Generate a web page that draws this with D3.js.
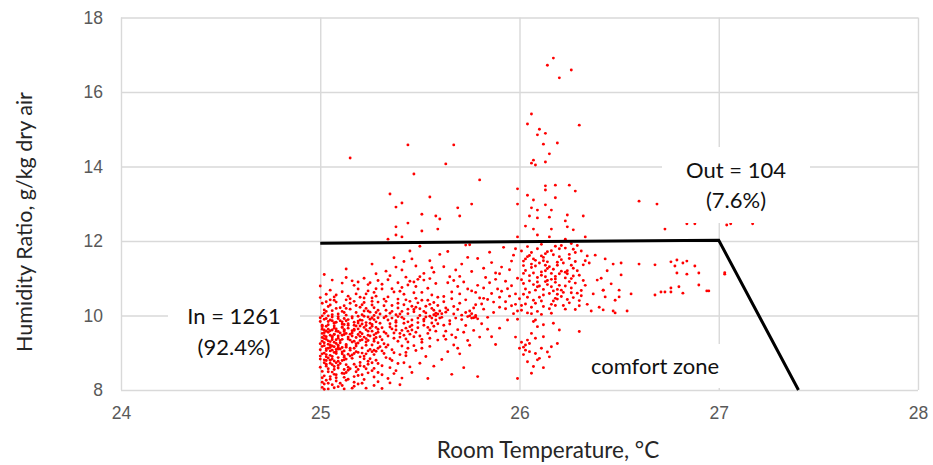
<!DOCTYPE html>
<html>
<head>
<meta charset="utf-8">
<script src="https://cdn.jsdelivr.net/npm/d3@7"></script>
<style>
  html, body { margin: 0; padding: 0; background: #fff; }
  svg { display: block; font-family: Lato, "Open Sans", sans-serif; }
</style>
</head>
<body>
<svg id="chart" width="933" height="465"></svg>
<script>
// Axis ticks
const xTicks = [24, 25, 26, 27, 28];
const yTicks = [8, 10, 12, 14, 16, 18];

// Comfort zone boundary (room temperature °C, humidity ratio g/kg)
const comfortBoundary = [[25, 11.94], [27, 12.02], [27.4, 8]];

// Measured readings: [room temperature °C, humidity ratio g/kg dry air]
const readings25a = [
  [25.01,8.07],[25.03,8.26],[25.06,8.14],[25.02,8.38],[25.08,8.33],[25.04,8.49],[25.00,8.61],[25.07,8.55],[25.05,8.72],[25.09,8.66],
  [25.02,8.81],[25.06,8.9],[25.01,8.97],[25.04,8.86],[25.08,9.03],[25.03,9.11],[25.07,9.16],[25.00,9.24],[25.05,9.3],[25.09,9.2],
  [25.02,9.38],[25.06,9.44],[25.04,9.55],[25.01,9.63],[25.08,9.58],[25.03,9.71],[25.07,9.79],[25.05,9.88],[25.00,9.94],[25.09,9.97],
  [25.02,10.06],[25.06,10.13],[25.04,10.24],[25.08,10.19],[25.01,10.33],[25.07,10.41],[25.03,10.57],[25.00,10.79],[25.05,10.68],[25.02,11.1],
  [25.04,8.18],[25.07,8.42],[25.01,8.5],[25.09,8.77],[25.03,8.95],[25.06,9.07],[25.02,9.19],[25.08,9.35],[25.05,9.47],[25.01,9.52],
  [25.07,9.66],[25.04,9.84],[25.09,9.39],[25.02,9.9],[25.06,10.02],[25.03,8.64],[25.08,8.98],[25.00,9.08],[25.05,9.14],[25.1,9.27],
  [25.03,9.43],[25.06,9.61],[25.01,9.74],[25.08,9.82],[25.04,9.32],[25.07,9.01],[25.02,8.73],[25.09,8.59],[25.05,8.36],[25.0,8.83],
  [25.06,8.68],[25.03,8.89],[25.08,9.25],[25.01,9.41],[25.04,9.63],[25.07,9.49],[25.02,9.27],[25.09,9.1],[25.05,8.93],[25.03,9.58],
  [25.02,8.16],[25.05,8.29],[25.08,8.24],[25.11,8.45],[25.01,8.33],[25.04,8.57],[25.07,8.63],[25.1,8.71],[25.03,8.79],[25.06,8.83],
  [25.09,8.87],[25.12,8.92],[25.02,8.99],[25.05,9.05],[25.08,9.09],[25.11,9.14],[25.01,9.17],[25.04,9.23],[25.07,9.28],[25.1,9.33],
  [25.03,9.36],[25.06,9.4],[25.09,9.45],[25.12,9.49],[25.02,9.54],[25.05,9.59],[25.08,9.64],[25.11,9.68],[25.01,9.7],[25.04,9.75],
  [25.07,9.81],[25.1,9.86],[25.03,9.92],[25.06,9.96],[25.09,10.04],[25.12,10.08],[25.02,10.15],[25.05,10.28],[25.08,10.36],[25.0,10.48],
  [25.04,8.03],[25.09,8.09],[25.01,8.21],[25.06,8.48],[25.12,8.55],[25.03,8.69],[25.08,8.73],[25.0,8.91],[25.11,9.02],[25.05,9.21],
  [25.02,9.46],[25.1,9.53],[25.07,9.72],[25.0,9.84],[25.04,9.99],[25.11,9.77],[25.06,9.35],[25.09,9.15],[25.03,9.06],[25.12,8.81],
  [25.07,8.78],[25.01,9.99],[25.1,10.21],[25.05,10.42],[25.03,10.11],[25.08,10.55],[25.12,9.62],[25.06,9.18],[25.02,9.61],[25.09,9.57]
];
const readings25b = [
  [25.11,8.12],[25.14,8.29],[25.17,8.21],[25.12,8.44],[25.19,8.39],[25.15,8.57],[25.13,8.68],[25.18,8.62],[25.11,8.79],[25.16,8.85],
  [25.2,8.74],[25.14,8.96],[25.12,9.05],[25.17,9.12],[25.19,9.01],[25.13,9.22],[25.16,9.29],[25.11,9.36],[25.18,9.41],[25.15,9.5],
  [25.12,9.57],[25.2,9.55],[25.14,9.66],[25.17,9.74],[25.11,9.83],[25.19,9.8],[25.16,9.93],[25.13,10.01],[25.18,10.08],[25.15,10.17],
  [25.12,10.26],[25.2,10.22],[25.17,10.38],[25.14,10.52],[25.11,10.64],[25.19,10.71],[25.16,10.93],[25.13,11.02],[25.18,8.49],[25.15,8.91],
  [25.13,9.15],[25.19,9.26],[25.11,9.47],[25.17,9.6],[25.14,9.78],[25.2,9.88],[25.12,9.92],[25.16,9.45],[25.18,9.18],[25.13,8.83],
  [25.15,9.07],[25.11,9.69],[25.19,9.64],[25.14,9.37],[25.17,8.98],[25.12,8.34],[25.16,8.05],[25.2,9.33],[25.13,9.86],[25.18,9.72],
  [25.15,10.33],[25.11,10.11],
  [25.13,8.26],[25.17,8.36],[25.22,8.28],[25.26,8.52],[25.14,8.61],[25.19,8.55],[25.24,8.69],[25.28,8.8],[25.12,8.88],[25.16,8.94],
  [25.21,8.99],[25.25,9.09],[25.29,9.12],[25.13,9.19],[25.18,9.24],[25.23,9.2],[25.27,9.31],[25.15,9.34],[25.2,9.44],[25.24,9.47],
  [25.28,9.52],[25.12,9.61],[25.17,9.63],[25.22,9.68],[25.26,9.76],[25.14,9.74],[25.19,9.85],[25.23,9.81],[25.27,9.89],[25.16,9.97],
  [25.21,10.02],[25.25,10.09],[25.29,10.14],[25.13,10.19],[25.18,10.27],[25.22,10.35],[25.26,10.28],[25.15,10.45],[25.2,10.49],[25.24,10.66],
  [25.17,10.81],[25.28,10.52],[25.13,8.47],[25.21,8.41],[25.27,8.95],[25.18,9.03],[25.23,9.38],[25.16,9.53],[25.29,9.63],[25.2,9.72],
  [25.25,9.79],[25.14,9.89],[25.19,9.98],[25.26,10.38],[25.22,8.84],[25.28,9.41],[25.15,9.12],[25.2,8.65],[25.24,9.96],[25.17,9.31]
];
const readings25c = [
  [25.21,8.18],[25.24,8.46],[25.27,8.35],[25.22,8.63],[25.29,8.71],[25.25,8.84],[25.23,8.97],[25.28,9.04],[25.21,9.13],[25.26,9.21],
  [25.3,9.16],[25.24,9.33],[25.22,9.42],[25.27,9.48],[25.29,9.55],[25.23,9.62],[25.26,9.71],[25.21,9.77],[25.28,9.83],[25.25,9.9],
  [25.22,9.98],[25.3,10.04],[25.24,10.12],[25.27,10.21],[25.21,10.29],[25.29,10.36],[25.26,10.47],[25.23,10.58],[25.28,10.72],[25.25,10.88],
  [25.22,11.0],[25.27,9.07],[25.24,9.58],[25.29,9.27],[25.21,9.51],[25.26,9.94],[25.23,9.29],[25.28,9.68],[25.25,9.45],[25.3,9.79],
  [25.22,8.91],[25.27,8.58],[25.24,8.77],[25.29,8.22],[25.26,9.03],[25.21,9.87],[25.28,10.08],[25.23,10.19],[25.25,9.66],[25.27,9.37]
];
const readings25d = [
  [25.31,8.41],[25.35,8.6],[25.38,8.52],[25.42,8.73],[25.33,8.87],[25.4,8.95],[25.36,9.08],[25.44,9.12],[25.32,9.24],[25.39,9.31],
  [25.43,9.37],[25.34,9.45],[25.37,9.53],[25.41,9.6],[25.31,9.67],[25.45,9.7],[25.35,9.78],[25.38,9.86],[25.42,9.91],[25.33,9.98],
  [25.4,10.04],[25.36,10.11],[25.44,10.17],[25.32,10.26],[25.39,10.33],[25.43,10.42],[25.34,10.5],[25.37,10.63],[25.41,10.75],[25.31,10.84],
  [25.45,10.92],[25.35,11.07],[25.38,11.3],[25.42,11.45],[25.33,9.15],[25.4,9.42],[25.36,9.64],[25.44,9.83],[25.32,9.94],[25.39,10.2],
  [25.43,8.92],[25.34,8.31],[25.37,9.0],[25.41,9.18],[25.31,9.35],[25.45,9.5],[25.35,10.06],[25.38,9.72],[25.42,10.29],[25.33,10.38],
  [25.4,8.14],[25.36,8.79],[25.44,9.29],[25.39,9.97],
  [25.31,9.05],[25.34,9.21],[25.37,9.39],[25.4,9.52],[25.43,9.66],[25.46,9.74],[25.49,9.81],[25.52,9.9],[25.55,9.98],[25.58,10.06],
  [25.32,9.56],[25.35,9.69],[25.38,9.82],[25.41,9.95],[25.44,10.05],[25.47,10.1],[25.5,10.18],[25.53,10.25],[25.56,10.19],[25.59,10.27],
  [25.33,10.14],[25.36,10.27],[25.39,10.44],[25.42,10.57],[25.45,10.38],[25.48,10.46],[25.51,10.62],[25.54,10.41],[25.57,10.35],[25.6,10.12],
  [25.31,8.65],[25.35,8.84],[25.39,8.71],[25.43,9.01],[25.47,9.19],[25.51,9.36],[25.55,9.61],[25.59,9.78],[25.34,9.88],[25.38,10.02],
  [25.42,9.79],[25.46,9.61],[25.5,9.45],[25.54,9.68],[25.58,9.88],[25.32,10.44],[25.36,10.72],[25.4,10.65],[25.44,10.82],[25.48,10.78],
  [25.52,10.95],[25.56,9.93],[25.37,8.44],[25.41,8.32],[25.45,8.62]
];
const readings25e = [
  [25.46,8.47],[25.5,8.72],[25.53,8.9],[25.57,8.64],[25.48,9.06],[25.55,9.17],[25.51,9.28],[25.59,9.34],[25.47,9.43],[25.54,9.52],
  [25.58,9.58],[25.49,9.67],[25.52,9.74],[25.56,9.8],[25.46,9.88],[25.6,9.93],[25.5,10.0],[25.53,10.07],[25.57,10.14],[25.48,10.22],
  [25.55,10.3],[25.51,10.41],[25.59,10.49],[25.47,10.61],[25.54,10.73],[25.58,10.86],[25.49,10.97],[25.52,11.13],[25.56,11.28],[25.46,11.52],
  [25.6,11.64],[25.5,11.86],[25.53,9.96],[25.57,9.71],[25.48,9.55],[25.55,9.39],[25.51,9.12],[25.59,10.04],[25.47,10.16],[25.54,8.31],
  [25.58,9.99],[25.49,10.34],[25.56,10.55],[25.52,9.85]
];
const readings25f = [
  [25.61,8.82],[25.64,9.03],[25.67,9.21],[25.7,8.97],[25.63,9.36],[25.66,9.48],[25.69,9.62],[25.72,9.55],[25.62,9.74],[25.65,9.86],
  [25.68,9.93],[25.71,10.01],[25.74,9.97],[25.77,9.94],[25.78,10.0],[25.76,10.05],[25.79,9.91],[25.75,10.12],[25.63,10.09],[25.61,10.05],
  [25.64,10.15],[25.67,10.24],[25.7,10.33],[25.73,10.42],[25.62,10.51],[25.66,10.63],[25.69,10.78],[25.72,10.9],[25.65,11.04],[25.68,11.22],
  [25.71,11.38],[25.74,11.56],[25.64,11.72],[25.78,10.29],[25.8,10.47],[25.76,10.66],[25.79,10.81],[25.73,9.73],[25.77,9.6],[25.8,9.42],
  [25.75,9.2],[25.66,8.42],[25.72,8.6],[25.69,9.12],[25.63,9.58],[25.79,8.36],[25.77,10.2],[25.73,11.89],[25.75,11.9],
  [25.61,9.95],[25.63,10.2],[25.65,9.77],[25.67,10.04],[25.69,10.16],[25.71,9.89],[25.73,10.08],[25.75,9.99],[25.76,9.93],[25.78,9.96],
  [25.62,10.37],[25.66,10.45],[25.7,10.58],[25.74,10.71],[25.78,10.62],[25.62,9.45],[25.68,9.41],[25.74,9.33],[25.64,10.88],[25.7,11.05],
  [25.76,11.18],[25.79,11.53]
];
const readings25g = [
  [25.81,9.78],[25.84,9.95],[25.87,10.08],[25.9,10.22],[25.93,10.37],[25.82,10.46],[25.86,10.59],[25.89,10.71],[25.95,10.52],[25.98,10.3],
  [25.83,11.02],[25.88,11.14],[25.91,11.3],[25.96,11.46],[25.85,11.7],[25.92,11.83],[25.99,10.12],[25.97,10.05],[25.94,9.88],[25.9,9.66],
  [25.86,9.43],[25.99,9.9],[25.82,10.17],[25.96,10.8],[25.99,11.0],[25.88,9.22],[25.93,10.92],[25.97,11.62],
  [25.82,10.74],[25.85,10.88],[25.88,10.97],[25.91,10.65],[25.94,10.72],[25.81,10.31],[25.84,10.43],[25.87,10.36],[25.9,10.49],[25.93,10.18],
  [25.96,10.26],[25.98,10.58],[25.82,11.27],[25.86,11.42],[25.9,11.12],[25.95,11.23],[25.98,11.79],[25.84,9.63]
];
const readings25h = [
  [25.02,8.02],[25.07,8.06],[25.12,8.03],[25.17,8.1],[25.23,8.05],[25.31,8.04],[25.35,8.19],[25.27,8.12],[25.19,8.16],[25.1,8.18],
  [25.03,10.37],[25.07,10.5],[25.13,10.42],[25.18,10.58],[25.22,10.47],[25.27,10.62],[25.31,10.71],[25.34,10.96],[25.29,10.94],[25.24,10.83],
  [25.19,10.9],[25.11,10.87],[25.06,10.95],[25.28,11.12],[25.33,11.19],[25.39,10.88],[25.43,11.03],[25.47,10.9],[25.5,11.04],[25.55,10.99],
  [25.41,11.22],[25.48,11.33],[25.57,11.16],[25.37,11.55],[25.26,11.38],[25.13,11.25],[25.45,11.73],[25.55,11.47],[25.62,11.31],[25.67,10.94],
  [25.1,9.1],[25.07,9.5],[25.14,9.42],[25.04,9.12],[25.12,9.76],[25.09,9.92],[25.16,9.59],[25.01,9.31],[25.06,9.86],[25.13,9.52],
  [25.21,9.35],[25.26,9.58],[25.23,9.73],[25.19,9.49],[25.29,9.94],[25.24,9.05],[25.17,9.82],[25.3,9.43],[25.22,10.12],[25.27,10.0],
  [25.33,9.52],[25.38,9.61],[25.42,9.47],[25.36,9.93],[25.41,10.11],[25.46,10.25],[25.52,10.11],[25.57,10.02],[25.49,9.93],[25.44,9.58],
  [25.08,8.41],[25.14,8.53],[25.2,8.89],[25.26,8.73],[25.32,8.98],[25.05,8.8],[25.11,8.97],[25.17,8.69],[25.23,8.57],[25.29,8.47]
];
const readings26a = [
  [26.01,10.14],[26.03,10.31],[26.06,10.22],[26.02,10.57],[26.04,10.49],[26.07,10.83],[26.01,10.96],[26.05,11.07],[26.03,11.21],[26.06,11.38],
  [26.02,11.46],[26.05,11.61],[26.01,11.73],[26.04,11.85],[26.07,11.52],[26.09,10.11],[26.11,10.39],[26.12,10.55],[26.08,10.68],[26.1,10.79],
  [26.13,10.91],[26.09,11.02],[26.11,11.17],[26.14,11.26],[26.08,11.33],[26.12,11.47],[26.13,11.66],[26.09,11.79],[26.11,11.91],[26.16,10.06],
  [26.18,10.27],[26.19,10.44],[26.15,10.59],[26.17,10.66],[26.2,10.81],[26.16,10.97],[26.18,11.05],[26.21,11.19],[26.15,11.31],[26.19,11.43],
  [26.2,11.58],[26.16,11.74],[26.18,11.86],[26.23,10.17],[26.25,10.34],[26.27,10.48],[26.22,10.62],[26.26,10.74],[26.28,10.87],[26.23,11.01],
  [26.24,11.12],[26.27,11.27],[26.22,11.41],[26.25,11.53],[26.28,11.69],[26.23,11.81],[26.26,11.93],[26.3,10.26],[26.31,10.53],[26.33,10.81],
  [26.3,11.08],[26.32,11.36],[26.34,11.6],[26.29,11.88],[26.02,10.86],[26.07,10.41],[26.14,10.94],[26.21,10.51],[26.06,11.29],[26.11,10.03],
  [26.18,10.89],[26.04,10.07],[26.13,11.35],[26.19,10.7],[26.08,11.48],[26.16,10.3],[26.23,11.16],[26.26,10.99],[26.0,10.45],[26.02,11.13],
  [26.01,10.27],[26.03,10.71],[26.05,10.93],[26.02,11.34],[26.04,11.58],[26.06,11.69],[26.08,10.33],[26.1,10.49],[26.12,10.7],[26.09,10.9],
  [26.11,11.08],[26.13,11.2],[26.1,11.41],[26.12,11.56],[26.14,11.71],[26.15,10.18],[26.17,10.39],[26.19,10.57],[26.16,10.77],[26.18,10.98],
  [26.2,11.12],[26.17,11.24],[26.19,11.35],[26.21,11.5],[26.17,11.63],[26.2,11.79],[26.22,10.27],[26.24,10.43],[26.26,10.61],[26.23,10.79],
  [26.25,10.91],[26.27,11.06],[26.24,11.2],[26.26,11.35],[26.28,11.45],[26.25,11.64],[26.27,11.78],[26.3,10.4],[26.31,10.67],[26.32,10.94],
  [26.29,11.2],[26.33,11.47],[26.31,11.73],[26.05,10.62],[26.09,10.77],[26.14,10.83],[26.18,10.46],[26.21,10.68],[26.13,11.04],[26.07,11.14],
  [26.03,11.52],[26.06,10.05],[26.14,11.44],[26.21,11.88],[26.11,11.6],[26.16,11.13],[26.28,10.16],[26.34,10.3],[26.29,10.6],[26.12,10.24]
];
const readings26b = [
  [26.08,9.39],[26.04,9.34],[26.05,9.25],[26.0,9.12],[26.02,9.15],[26.03,9.21],[26.05,9.03],[26.08,8.98],[26.12,9.43],[26.11,9.12],
  [26.16,9.16],[26.19,9.25],[26.1,8.85],[26.15,8.89],[26.09,8.81],[26.04,8.76],[26.07,8.63],[26.12,8.6],[26.06,8.45],[25.99,8.31],
  [26.07,9.84],[26.08,9.88],[26.12,9.75],[26.17,9.79],[26.2,9.61],[26.3,9.57],[26.09,9.7],[26.03,9.07],[26.01,9.28],[26.14,9.02],
  [26.06,9.52],[26.02,8.95],[25.98,9.42]
];
const readings26c = [
  [26.37,10.58],[26.35,11.41],[26.39,10.95],[26.42,10.68],[26.38,11.62],[26.44,11.2],[26.4,10.22],[26.46,10.85],[26.36,10.12],[26.43,11.52],
  [26.48,10.41],[26.41,11.0],
  [26.47,11.38],[26.51,11.41],[26.6,11.38],[26.68,11.36],[26.76,11.44],[26.78,11.33],[26.79,11.49],[26.82,11.41],[26.84,11.46],[26.88,11.33],
  [26.51,11.09],[26.79,11.14],[26.84,11.11],[26.9,11.14],[27.03,11.11],[27.03,11.15],[26.42,10.68],[26.5,10.68],[26.56,10.58],[26.43,10.5],
  [26.5,10.5],[26.68,10.55],[26.71,10.63],[26.73,10.63],[26.76,10.63],[26.76,10.74],[26.8,10.77],[26.82,10.6],[26.9,10.82],[26.94,10.66],
  [26.95,10.66],[26.42,10.15],[26.47,10.12],[26.48,10.07],[26.54,10.12]
];
const readingsHigh = [
  [25.15,14.23],[25.44,14.58],[25.67,14.58],[25.63,14.07],[25.47,13.8],[25.8,13.64],[25.35,13.26],[25.55,13.18],[25.41,13.02],[25.38,12.91],
  [25.76,12.99],[25.69,12.89],[25.7,12.67],[25.51,12.72],[25.58,12.67],[25.6,12.59],[25.44,12.48],[25.38,12.38],[25.51,12.27],[25.59,12.32],
  [25.38,12.16],[25.41,12.11],[25.34,12.05],
  [26.06,15.41],[26.04,15.14],[26.1,15.0],[26.13,14.89],[26.09,14.85],[26.3,15.11],[26.12,14.6],[26.19,14.63],[26.15,14.34],[26.13,14.12],
  [26.06,14.09],[26.07,14.17],[26.08,14.04],[25.99,13.4],[26.04,13.23],[25.99,12.99],[26.13,13.48],[26.18,13.5],[26.25,13.5],[26.28,13.34],
  [26.13,13.37],[26.18,13.16],[26.07,13.1],[26.13,12.97],[26.06,12.89],[26.09,12.83],[26.16,12.83],[26.05,12.67],[26.09,12.62],[26.15,12.64],
  [26.24,12.7],[26.32,12.67],[26.03,12.4],[26.07,12.32],[26.16,12.32],[26.24,12.38],[26.27,12.3],[26.23,12.54],[26.09,12.16],[26.15,12.11],
  [26.23,12.05],[26.33,12.11],[25.99,12.11],
  [26.17,16.91],[26.14,16.72],[26.26,16.59],[26.2,16.38],
  [26.6,13.07],[26.69,12.99],[26.73,12.32],[26.84,12.46],[26.88,12.46],[27.04,12.43],[27.06,12.46],[27.17,12.46]
];

const readings = [].concat(readings25a, readings25b, readings25c, readings25d, readings25e,
  readings25f, readings25g, readings25h, readings26a, readings26b, readings26c, readingsHigh);

const svg = d3.select("#chart");
const W = 933, H = 465;
const plot = { left: 121, right: 918, top: 17.5, bottom: 390 };

const x = d3.scaleLinear().domain([24, 28]).range([plot.left, plot.right]);
const y = d3.scaleLinear().domain([8, 18]).range([plot.bottom, plot.top]);

svg.append("rect").attr("width", W).attr("height", H).attr("fill", "#fff");

// Gridlines and tick labels
const gridColor = "#d9d9d9";
const tickColor = "#595959";

const xAxis = svg.append("g")
  .attr("transform", `translate(0,${plot.bottom})`)
  .call(d3.axisBottom(x).tickValues(xTicks).tickFormat(d3.format("d"))
    .tickSize(-(plot.bottom - plot.top)).tickPadding(17));
xAxis.select(".domain").remove();
xAxis.selectAll("line").attr("stroke", gridColor).attr("stroke-width", 1.4);
xAxis.selectAll("text").attr("fill", tickColor).style("font-size", "17.5px");

const yAxis = svg.append("g")
  .attr("transform", `translate(${plot.left},0)`)
  .call(d3.axisLeft(y).tickValues(yTicks).tickFormat(d3.format("d"))
    .tickSize(-(plot.right - plot.left)).tickPadding(18));
yAxis.select(".domain").remove();
yAxis.selectAll("line").attr("stroke", gridColor).attr("stroke-width", 1.4);
yAxis.selectAll("text").attr("fill", tickColor).style("font-size", "17.5px");

// Readings
svg.append("g").selectAll("circle")
  .data(readings)
  .join("circle")
  .attr("cx", d => x(d[0]))
  .attr("cy", d => y(d[1]))
  .attr("r", 1.45)
  .attr("fill", "#ff0000");

// Comfort zone boundary
svg.append("path")
  .datum(comfortBoundary)
  .attr("d", d3.line().x(d => x(d[0])).y(d => y(d[1])))
  .attr("fill", "none")
  .attr("stroke", "#000")
  .attr("stroke-width", 3);

// Text boxes
function textBox(cx, cy, w, h, lines, lineGap) {
  const g = svg.append("g");
  g.append("rect").attr("x", cx - w / 2).attr("y", cy - h / 2)
    .attr("width", w).attr("height", h).attr("fill", "#fff");
  const t = g.append("text").attr("text-anchor", "middle")
    .attr("fill", "#111").style("font-size", "22px");
  lines.forEach((s, i) => {
    t.append("tspan").attr("x", cx)
      .attr("y", cy + (i - (lines.length - 1) / 2) * lineGap)
      .attr("dy", "0.35em").text(s);
  });
}
textBox(234, 332, 132, 72, ["In = 1261", "(92.4%)"], 31);
textBox(736, 185, 148, 76, ["Out = 104", "(7.6%)"], 30);
textBox(655, 366, 150, 44, ["comfort zone"], 30);

// Axis titles
svg.append("text")
  .attr("x", 548).attr("y", 450).attr("dy", "0.35em")
  .attr("text-anchor", "middle").attr("fill", "#262626")
  .style("font-size", "22.5px")
  .text("Room Temperature, °C");

svg.append("text")
  .attr("transform", `translate(24,222) rotate(-90)`)
  .attr("dy", "0.35em")
  .attr("text-anchor", "middle").attr("fill", "#262626")
  .style("font-size", "21.5px")
  .text("Humidity Ratio, g/kg dry air");
</script>
</body>
</html>
